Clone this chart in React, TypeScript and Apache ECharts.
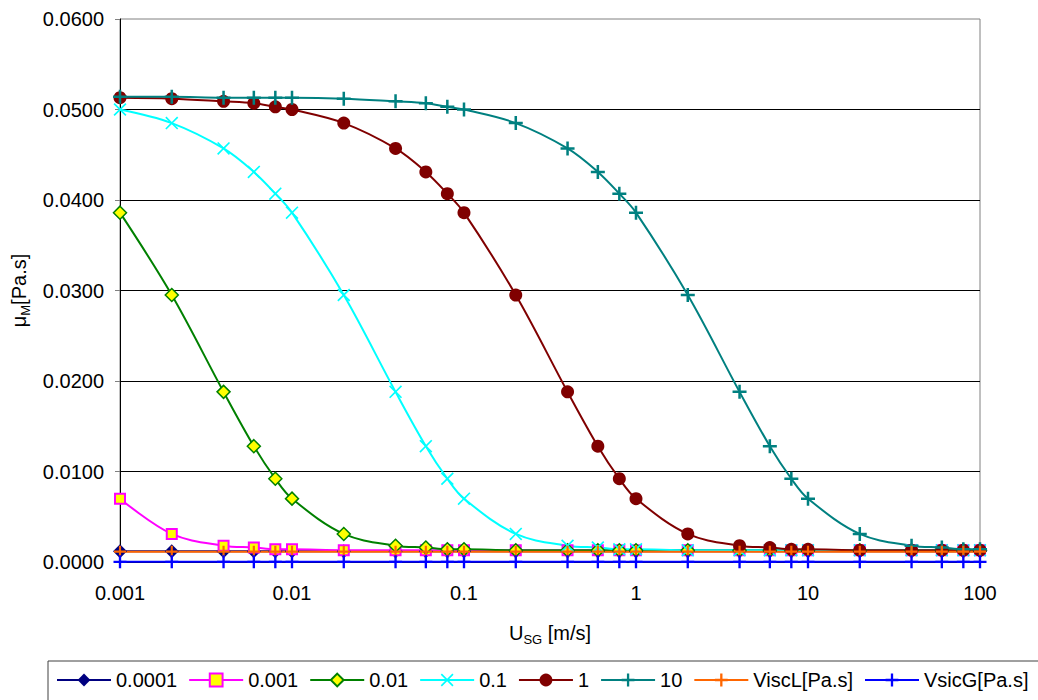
import React, { useEffect, useRef } from "react";
import * as echarts from "echarts";

// Superficial gas velocity U_SG [m/s]
const usg = [
  0.001, 0.002, 0.004, 0.006, 0.008, 0.01, 0.02, 0.04, 0.06, 0.08, 0.1, 0.2, 0.4,
  0.6, 0.8, 1, 2, 4, 6, 8, 10, 20, 40, 60, 80, 100,
];

// Mixture viscosity μM [Pa.s] for each parameter value
const mu00001 = [
  0.0012, 0.0012, 0.0012, 0.0012, 0.0012, 0.0012, 0.0012, 0.0012, 0.0012, 0.0012, 0.0012,
  0.0012, 0.0012, 0.0012, 0.0012, 0.0012, 0.0012, 0.0012, 0.0012, 0.0012, 0.0012, 0.0012,
  0.0012, 0.0012, 0.0012, 0.0012,
];
const mu0001 = [
  0.007, 0.0031, 0.0018, 0.0016, 0.0014, 0.0014, 0.0013, 0.0013, 0.0013, 0.0013, 0.0013,
  0.0013, 0.0013, 0.0013, 0.0013, 0.0013, 0.0013, 0.0013, 0.0013, 0.0013, 0.0013, 0.0013,
  0.0013, 0.0013, 0.0013, 0.0013,
];
const mu001 = [
  0.0386, 0.0295, 0.0188, 0.0128, 0.0092, 0.007, 0.0031, 0.0018, 0.0016, 0.0014, 0.0014,
  0.0013, 0.0013, 0.0013, 0.0013, 0.0013, 0.0013, 0.0013, 0.0013, 0.0013, 0.0013, 0.0013,
  0.0013, 0.0013, 0.0013, 0.0013,
];
const mu01 = [
  0.05, 0.0485, 0.0457, 0.0431, 0.0407, 0.0386, 0.0295, 0.0188, 0.0128, 0.0092, 0.007,
  0.0031, 0.0018, 0.0016, 0.0014, 0.0014, 0.0013, 0.0013, 0.0013, 0.0013, 0.0013, 0.0013,
  0.0013, 0.0013, 0.0013, 0.0013,
];
const mu1 = [
  0.0513, 0.0512, 0.0509, 0.0507, 0.0503, 0.05, 0.0485, 0.0457, 0.0431, 0.0407, 0.0386,
  0.0295, 0.0188, 0.0128, 0.0092, 0.007, 0.0031, 0.0018, 0.0016, 0.0014, 0.0014, 0.0013,
  0.0013, 0.0013, 0.0013, 0.0013,
];
const mu10 = [
  0.0514, 0.0514, 0.0513, 0.0513, 0.0513, 0.0513, 0.0512, 0.0509, 0.0507, 0.0503, 0.05,
  0.0485, 0.0457, 0.0431, 0.0407, 0.0386, 0.0295, 0.0188, 0.0128, 0.0092, 0.007, 0.0031,
  0.0018, 0.0016, 0.0014, 0.0014,
];
const viscL = [
  0.00114, 0.00114, 0.00114, 0.00114, 0.00114, 0.00114, 0.00114, 0.00114, 0.00114, 0.00114,
  0.00114, 0.00114, 0.00114, 0.00114, 0.00114, 0.00114, 0.00114, 0.00114, 0.00114, 0.00114,
  0.00114, 0.00114, 0.00114, 0.00114, 0.00114, 0.00114,
];
const viscG = [
  0.000018, 0.000018, 0.000018, 0.000018, 0.000018, 0.000018, 0.000018, 0.000018, 0.000018,
  0.000018, 0.000018, 0.000018, 0.000018, 0.000018, 0.000018, 0.000018, 0.000018, 0.000018,
  0.000018, 0.000018, 0.000018, 0.000018, 0.000018, 0.000018, 0.000018, 0.000018,
];

const seriesNames = ["0.0001", "0.001", "0.01", "0.1", "1", "10", "ViscL[Pa.s]", "VsicG[Pa.s]"];
const seriesValues = [mu00001, mu0001, mu001, mu01, mu1, mu10, viscL, viscG];

const FONT = "'Liberation Sans', Arial, sans-serif";
const PLUS = "path://M4.1,0H5.9V4.1H10V5.9H5.9V10H4.1V5.9H0V4.1H4.1Z";
const CROSS =
  "path://M0,0.9L0.9,0L5,4.1L9.1,0L10,0.9L5.9,5L10,9.1L9.1,10L5,5.9L0.9,10L0,9.1L4.1,5Z";

type Look = {
  color: string;
  symbol: string;
  size: number;
  fill: string;
  border?: string;
  borderWidth?: number;
};

const looks: Look[] = [
  { color: "#000080", symbol: "diamond", size: 14, fill: "#000080" },
  { color: "#FF00FF", symbol: "rect", size: 10, fill: "#FFFF00", border: "#FF00FF", borderWidth: 2 },
  { color: "#008000", symbol: "diamond", size: 13, fill: "#FFFF00", border: "#008000", borderWidth: 1.5 },
  { color: "#00FFFF", symbol: CROSS, size: 13, fill: "#00FFFF" },
  { color: "#800000", symbol: "circle", size: 13, fill: "#800000" },
  { color: "#008080", symbol: PLUS, size: 14, fill: "#008080" },
  { color: "#FF6600", symbol: PLUS, size: 12, fill: "#FF6600" },
  { color: "#0000FF", symbol: PLUS, size: 13, fill: "#0000FF" },
];

export default function App() {
  const ref = useRef<HTMLDivElement>(null);

  useEffect(() => {
    if (!ref.current) return;
    const chart = echarts.init(ref.current, undefined, { renderer: "svg" });

    const series = seriesNames.map((name, i) => {
      const lk = looks[i];
      return {
        name,
        type: "line",
        data: usg.map((x, j) => [x, seriesValues[i][j]]),
        smooth: 0.35,
        symbol: lk.symbol,
        symbolSize: lk.size,
        showAllSymbol: true,
        lineStyle: { color: lk.color, width: 2 },
        itemStyle: {
          color: lk.fill,
          borderColor: lk.border ?? lk.fill,
          borderWidth: lk.borderWidth ?? 0,
        },
        emphasis: { disabled: true },
      };
    });

    chart.setOption({
      animation: false,
      backgroundColor: "#ffffff",
      textStyle: { fontFamily: FONT },
      grid: {
        left: 120,
        right: 58,
        top: 19,
        bottom: 138,
        show: true,
        borderColor: "#808080",
        borderWidth: 1,
        containLabel: false,
        outerBoundsMode: "none",
      },
      legend: {
        left: 48,
        top: 661,
        width: 1000,
        padding: [9, 12, 12, 8],
        itemWidth: 54,
        itemHeight: 16,
        itemGap: 11,
        borderColor: "#404040",
        borderWidth: 1,
        textStyle: { fontSize: 20, color: "#000", fontFamily: FONT },
        data: seriesNames,
      },
      xAxis: {
        type: "log",
        logBase: 10,
        min: 0.001,
        max: 100,
        name: "{m|U}{s|SG}{m| [m/s]}",
        nameLocation: "middle",
        nameGap: 58,
        nameTextStyle: {
          rich: {
            m: { fontSize: 20, color: "#000", fontFamily: FONT, lineHeight: 26, verticalAlign: "middle" },
            s: { fontSize: 13, color: "#000", fontFamily: FONT, lineHeight: 13, verticalAlign: "bottom" },
          },
        },
        axisLine: { show: true, lineStyle: { color: "#000", width: 1 } },
        axisTick: { show: false },
        splitLine: { show: false },
        minorTick: { show: false },
        axisLabel: {
          fontSize: 20,
          color: "#000",
          fontFamily: FONT,
          margin: 21,
          formatter: (v: number) => String(Number(v.toPrecision(3))),
        },
      },
      yAxis: {
        type: "value",
        min: 0,
        max: 0.06,
        interval: 0.01,
        name: "{m|μ}{s|M}{m|[Pa.s]}",
        nameLocation: "middle",
        nameGap: 82,
        nameRotate: 90,
        nameTextStyle: {
          rich: {
            m: { fontSize: 20, color: "#000", fontFamily: FONT, lineHeight: 26, verticalAlign: "middle" },
            s: { fontSize: 13, color: "#000", fontFamily: FONT, lineHeight: 13, verticalAlign: "bottom" },
          },
        },
        axisLine: { show: true, lineStyle: { color: "#000", width: 1 } },
        axisTick: { show: true, length: 5, lineStyle: { color: "#808080" } },
        splitLine: { show: true, showMaxLine: false, lineStyle: { color: "#000", width: 1 } },
        axisLabel: {
          fontSize: 20,
          color: "#000",
          fontFamily: FONT,
          margin: 16,
          formatter: (v: number) => v.toFixed(4),
        },
      },
      series,
    });

    return () => chart.dispose();
  }, []);

  return (
    <div
      ref={ref}
      style={{ position: "fixed", left: 0, top: 0, width: 1038, height: 700, background: "#fff" }}
    />
  );
}
